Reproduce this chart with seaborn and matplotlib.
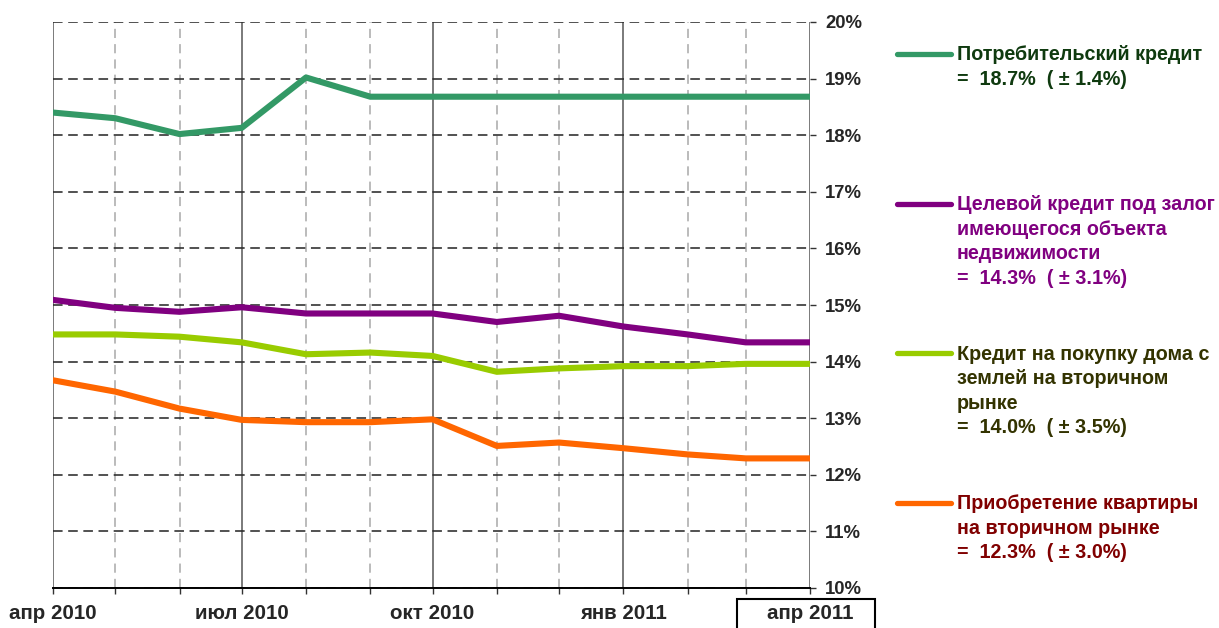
import matplotlib
matplotlib.use("Agg")
import matplotlib.pyplot as plt
import matplotlib.dates as mdates
from matplotlib.ticker import FixedLocator, FixedFormatter
from matplotlib.lines import Line2D
from matplotlib.patches import Rectangle
import pandas as pd
import seaborn as sns

# ---------------- data ----------------
months = pd.date_range("2010-04-01", "2011-04-01", freq="MS")
consumer = [18.4, 18.3, 18.02, 18.13, 19.02, 18.68, 18.68, 18.68, 18.68, 18.68, 18.68, 18.68, 18.68]
secured = [15.09, 14.95, 14.88, 14.96, 14.85, 14.85, 14.85, 14.7, 14.81, 14.62, 14.48, 14.34, 14.34]
house = [14.48, 14.48, 14.44, 14.34, 14.13, 14.16, 14.1, 13.82, 13.88, 13.92, 13.92, 13.96, 13.96]
flat = [13.67, 13.47, 13.17, 12.97, 12.93, 12.93, 12.98, 12.51, 12.57, 12.47, 12.36, 12.29, 12.29]

series_names = ["consumer", "secured", "house", "flat"]
series_values = [consumer, secured, house, flat]
line_colors = ["#339966", "#800080", "#99CC00", "#FF6600"]
text_colors = ["#0F3A0F", "#800080", "#333300", "#800000"]
legend_texts = [
    ["Потребительский кредит", "=  18.7%  ( ± 1.4%)"],
    ["Целевой кредит под залог", "имеющегося объекта", "недвижимости", "=  14.3%  ( ± 3.1%)"],
    ["Кредит на покупку дома с", "землей на вторичном", "рынке", "=  14.0%  ( ± 3.5%)"],
    ["Приобретение квартиры", "на вторичном рынке", "=  12.3%  ( ± 3.0%)"],
]
quarter_dates = pd.to_datetime(["2010-04-01", "2010-07-01", "2010-10-01", "2011-01-01", "2011-04-01"])
quarter_labels = ["апр 2010", "июл 2010", "окт 2010", "янв 2011", "апр 2011"]
y_ticks = list(range(10, 21))
y_labels = [f"{v}%" for v in y_ticks]

df = pd.concat(
    [pd.DataFrame({"date": months, "value": vals, "series": name})
     for name, vals in zip(series_names, series_values)],
    ignore_index=True,
)

# ---------------- figure ----------------
sns.set_style("white")
plt.rcParams["font.family"] = ["Liberation Sans", "DejaVu Sans"]
plt.rcParams["font.weight"] = "bold"

W, H = 1219, 628
fig = plt.figure(figsize=(W / 100, H / 100), dpi=100)
L, R, T, B = 53, 810, 22, 588
ax = fig.add_axes([L / W, 1 - B / H, (R - L) / W, (B - T) / H])

sns.lineplot(data=df, x="date", y="value", hue="series",
             palette=dict(zip(series_names, line_colors)),
             linewidth=4.4, legend=False, ax=ax,
             solid_capstyle="round", solid_joinstyle="round", zorder=5)

ax.set_xlim(mdates.date2num(months[0]), mdates.date2num(months[-1]))
ax.set_ylim(10, 20)
ax.set_xlabel("")
ax.set_ylabel("")

qnum = mdates.date2num(quarter_dates)
minor = [m for m in mdates.date2num(months) if m not in set(qnum)]
ax.xaxis.set_major_locator(FixedLocator(qnum))
ax.xaxis.set_major_formatter(FixedFormatter(quarter_labels))
ax.xaxis.set_minor_locator(FixedLocator(minor))

ax.yaxis.tick_right()
ax.set_yticks(y_ticks)
ax.set_yticklabels(y_labels)

ax.set_axisbelow(True)
ax.grid(True, which="major", axis="x", color="#707070", lw=1.3, ls="-")
ax.grid(True, which="minor", axis="x", color="#a8a8a8", lw=1.1, ls=(0, (6, 4)))
ax.grid(True, which="major", axis="y", color="#2a2a2a", lw=1.15, ls=(0, (6, 3.5)))

for s in ["left", "right", "top"]:
    ax.spines[s].set_visible(False)
ax.spines["bottom"].set_color("black")
ax.spines["bottom"].set_linewidth(1.4)

ax.tick_params(axis="x", which="both", direction="out", length=4.5, width=1,
               color="#333333", bottom=True)
ax.tick_params(axis="x", which="major", labelsize=14.8, pad=7)
ax.tick_params(axis="y", which="major", direction="out", length=4, width=1,
               color="#333333", labelsize=13.3, pad=7, right=True, left=False)
for lab in ax.get_xticklabels() + ax.get_yticklabels():
    lab.set_fontweight("bold")

# box around last x label
fig.patches.append(Rectangle((737 / W, -0.02), 138 / W, (H - 599) / H + 0.02,
                             transform=fig.transFigure, fill=False,
                             ec="black", lw=1.5))

# ---------------- legend ----------------
first_y = 54
step = 149.5
line_gap = 24.6
for i, (lines, lc, tc) in enumerate(zip(legend_texts, line_colors, text_colors)):
    y0 = first_y + i * step
    fig.add_artist(Line2D([897 / W, 951 / W], [1 - y0 / H, 1 - y0 / H],
                          transform=fig.transFigure, color=lc, lw=3.8,
                          solid_capstyle="round"))
    for k, t in enumerate(lines):
        fig.text(957 / W, 1 - (y0 + 1 + k * line_gap) / H, t, color=tc,
                 fontsize=14.2, fontweight="bold", ha="left", va="center")

fig.savefig("out.png", dpi=100)
